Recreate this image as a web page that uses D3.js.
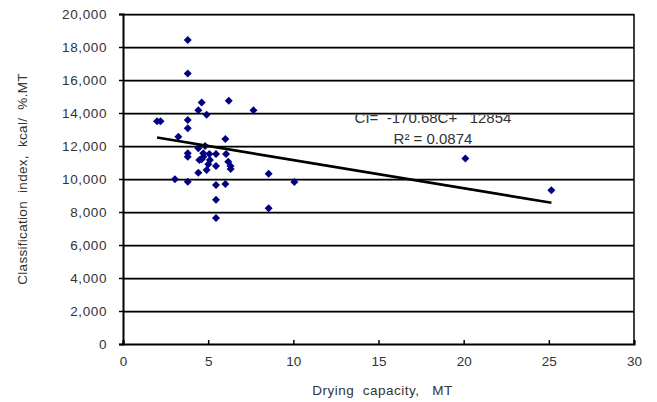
<!DOCTYPE html>
<html><head><meta charset="utf-8">
<script src="https://cdn.jsdelivr.net/npm/d3@7"></script>
<style>
html,body{margin:0;padding:0;background:#fff;}
svg text{font-family:"Liberation Sans",Arial,sans-serif;fill:#333;white-space:pre;}
</style></head>
<body><svg id="c" width="657" height="402"></svg>
<script>
const capacity = [2.0,2.2,3.05,3.25,3.8,3.8,3.8,3.8,3.8,3.8,3.8,4.42,4.42,4.42,4.48,4.62,4.62,4.71,4.72,4.82,4.91,4.91,5.01,5.07,5.1,5.46,5.46,5.46,5.46,5.46,6.01,6.01,6.05,6.18,6.21,6.31,6.32,7.66,8.55,8.55,10.06,20.1,25.15];
const index = [13500,13500,9980,12560,18420,16400,13575,13070,11560,11350,9840,14170,11860,10380,11150,14630,11190,11560,11350,12000,13900,10545,10890,11515,11150,11515,10790,9640,8750,7640,12420,9700,11515,11050,14750,10790,10600,14160,10320,8220,9820,11250,9315];
const xTicks = [0,5,10,15,20,25,30];
const yTicks = [0,2000,4000,6000,8000,10000,12000,14000,16000,18000,20000];
const trendSlope = -170.68, trendIntercept = 12854;
const eqLabel = "CI=  -170.68C+   12854";
const r2Label = "R² = 0.0874";
const xTitle = "Drying  capacity,   MT";
const yTitle = "Classification  index,  kcal/  %.MT";

const svg = d3.select("#c");
const x = d3.scaleLinear().domain([0,30]).range([123,634]);
const y = d3.scaleLinear().domain([0,20000]).range([344,14]);

// equation text (drawn under gridlines)
svg.append("text").attr("x",433).attr("y",123).attr("text-anchor","middle")
  .style("font-size","15px").text(eqLabel);
svg.append("text").attr("x",433).attr("y",144).attr("text-anchor","middle")
  .style("font-size","15px").text(r2Label);

// gridlines
const g = svg.append("g");
yTicks.filter(v=>v>0).forEach(v=>{
  g.append("line").attr("x1",x(0)).attr("x2",x(30)).attr("y1",y(v)+1.5).attr("y2",y(v)+1.5)
    .attr("stroke","#999").attr("stroke-width",1);
  g.append("line").attr("x1",x(0)).attr("x2",x(30)).attr("y1",y(v)+0.5).attr("y2",y(v)+0.5)
    .attr("stroke","#000").attr("stroke-width",1.3);
});
// right border
svg.append("line").attr("x1",x(30)).attr("x2",x(30)).attr("y1",y(20000)).attr("y2",y(0))
  .attr("stroke","#000").attr("stroke-width",1.5);

// axes
const yAxis = d3.axisLeft(y).tickValues(yTicks).tickFormat(d3.format(",")).tickSize(4).tickPadding(12);
const ya = svg.append("g").attr("transform",`translate(${x(0)},0)`).call(yAxis);
ya.select(".domain").attr("stroke","#000").attr("stroke-width",2);
ya.selectAll(".tick line").attr("stroke","#000").attr("stroke-width",1.5);
ya.selectAll(".tick text").style("font-size","13.5px").attr("fill","#333").style("letter-spacing","0.6px");

const xAxis = d3.axisBottom(x).tickValues(xTicks).tickSize(-4).tickPadding(12);
const xa = svg.append("g").attr("transform",`translate(0,${y(0)})`).call(xAxis);
xa.select(".domain").attr("stroke","#000").attr("stroke-width",2);
xa.selectAll(".tick line").attr("stroke","#000").attr("stroke-width",1.5);
xa.selectAll(".tick text").style("font-size","13.5px").attr("fill","#333");

// titles
svg.append("text").attr("x",x(15)+4).attr("y",395).attr("text-anchor","middle")
  .style("font-size","13.5px").style("letter-spacing","0.5px").text(xTitle);
svg.append("text").attr("transform",`translate(27,${(y(0)+y(20000))/2}) rotate(-90)`)
  .attr("text-anchor","middle").style("font-size","13.5px").style("letter-spacing","0.3px").text(yTitle);

// points
const sym = d3.symbol().type(d3.symbolSquare).size(32);
svg.append("g").selectAll("path").data(capacity.map((c,i)=>[c,index[i]])).join("path")
  .attr("d",sym).attr("transform",d=>`translate(${x(d[0])},${y(d[1])}) rotate(45)`)
  .attr("fill","#000080");

// trendline
const x0 = d3.min(capacity), x1 = d3.max(capacity);
svg.append("line").attr("x1",x(x0)).attr("y1",y(trendSlope*x0+trendIntercept))
  .attr("x2",x(x1)).attr("y2",y(trendSlope*x1+trendIntercept))
  .attr("stroke","#000").attr("stroke-width",2.6);
</script></body></html>
